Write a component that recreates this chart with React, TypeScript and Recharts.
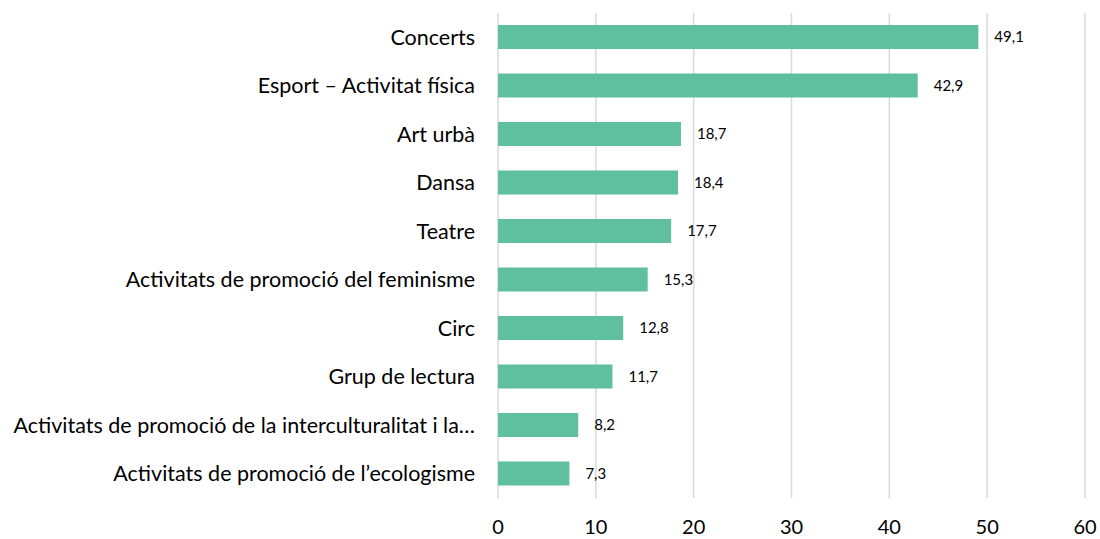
import React from 'react';
import { BarChart, Bar, XAxis, YAxis, CartesianGrid, LabelList } from 'recharts';

// Activitats (ordre de dalt a baix) i percentatges
const categories = [
  'Concerts',
  'Esport – Activitat física',
  'Art urbà',
  'Dansa',
  'Teatre',
  'Activitats de promoció del feminisme',
  'Circ',
  'Grup de lectura',
  'Activitats de promoció de la interculturalitat i la…',
  'Activitats de promoció de l’ecologisme',
];
const values = [49.1, 42.9, 18.7, 18.4, 17.7, 15.3, 12.8, 11.7, 8.2, 7.3];
const xTicks = [0, 10, 20, 30, 40, 50, 60];

const data = categories.map((name, i) => ({ name, value: values[i] }));

const FONT = 'Lato, "Open Sans", sans-serif';

const App = () => {
  return (
    <div style={{ position: 'absolute', left: 0, top: 0, background: '#fff' }}>
      <BarChart
        width={1100}
        height={539}
        data={data}
        layout="vertical"
        margin={{ top: 13, right: 15, left: 0, bottom: 0 }}
      >
        <CartesianGrid horizontal={false} stroke="#d9d9d9" strokeWidth={1.5} />
        <XAxis
          type="number"
          domain={[0, 60]}
          ticks={xTicks}
          axisLine={false}
          tickLine={false}
          tickSize={0}
          tickMargin={22}
          height={41}
          tick={{ fontSize: 20, fill: '#000', fontFamily: FONT }}
        />
        <YAxis
          type="category"
          dataKey="name"
          width={498}
          axisLine={false}
          tickLine={false}
          tickSize={0}
          tickMargin={23}
          interval={0}
          tick={{ fontSize: 21.5, fill: '#000', fontFamily: FONT }}
        />
        <Bar dataKey="value" fill="#5ec09e" barSize={24} isAnimationActive={false}>
          <LabelList
            dataKey="value"
            position="right"
            offset={16}
            formatter={(v: any) => String(v).replace('.', ',')}
            style={{ fontSize: 15, fill: '#000', fontFamily: FONT }}
          />
        </Bar>
      </BarChart>
    </div>
  );
};

export default App;
